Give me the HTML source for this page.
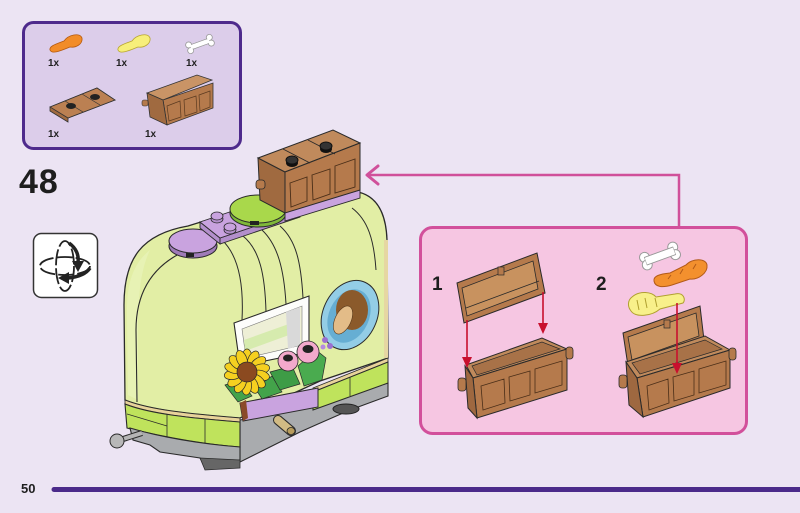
<!DOCTYPE html>
<html><head><meta charset="utf-8"><style>
html,body{margin:0;padding:0;background:#ece4f3;}
svg{display:block;}
text{font-family:"Liberation Sans",Arial,sans-serif;}
</style></head><body>
<svg width="800" height="513" viewBox="0 0 800 513" xmlns="http://www.w3.org/2000/svg">
<rect x="0" y="0" width="800" height="513" fill="#ece4f3"/>

<!-- Parts box -->
<rect x="23.5" y="22.5" width="217" height="126" rx="10" fill="#dccdea" stroke="#4e2a8c" stroke-width="3"/>
<path d="M50,50 C49,46 56,44 64,41 C68,35 80,32 82,38 C83,44 76,48 70,47 C62,50 52,55 50,50 Z" fill="#f28c28" stroke="#b55a10" stroke-width="0.8"/>
<path d="M118,50 C117,46 124,44 132,41 C136,35 148,32 150,38 C151,44 144,48 138,47 C130,50 120,55 118,50 Z" fill="#f7ef7a" stroke="#b8a630" stroke-width="0.8"/>
<g transform="translate(200,44) rotate(-20)">
<rect x="-10" y="-2.5" width="20" height="5" fill="#fff" stroke="#999" stroke-width="0.8"/>
<circle cx="-11" cy="-3" r="3" fill="#fff" stroke="#999" stroke-width="0.8"/><circle cx="-11" cy="3" r="3" fill="#fff" stroke="#999" stroke-width="0.8"/>
<circle cx="11" cy="-3" r="3" fill="#fff" stroke="#999" stroke-width="0.8"/><circle cx="11" cy="3" r="3" fill="#fff" stroke="#999" stroke-width="0.8"/>
<rect x="-10" y="-2" width="20" height="4" fill="#fff"/>
</g>
<text x="48" y="66" font-size="10" font-weight="bold" fill="#222">1x</text>
<text x="116" y="66" font-size="10" font-weight="bold" fill="#222">1x</text>
<text x="186" y="66" font-size="10" font-weight="bold" fill="#222">1x</text>
<!-- lid part -->
<polygon points="50,107 97,88 115,100 68,118 68,122 50,111" fill="#a06a40" stroke="#333" stroke-width="0.8"/>
<polygon points="50,107 97,88 115,100 68,118" fill="#bb8052" stroke="#333" stroke-width="0.8"/>
<line x1="65" y1="101" x2="83" y2="112" stroke="#333" stroke-width="0.7"/>
<line x1="82" y1="94" x2="100" y2="105" stroke="#333" stroke-width="0.7"/>
<ellipse cx="71" cy="106" rx="5" ry="3" fill="#222"/><ellipse cx="95" cy="97" rx="5" ry="3" fill="#222"/>
<!-- chest part -->
<polygon points="147,93 197,75 212,80 163,100" fill="#c99466" stroke="#333" stroke-width="0.8"/>
<polygon points="163,100 213,83 213,108 167,125" fill="#b57a4c" stroke="#333" stroke-width="0.8"/>
<polygon points="147,93 163,100 167,125 150,117" fill="#a06a40" stroke="#333" stroke-width="0.8"/>
<polygon points="167,106 180,101 181,117 169,121" fill="none" stroke="#5a3a20" stroke-width="0.7"/>
<polygon points="184,100 196,96 197,112 185,116" fill="none" stroke="#5a3a20" stroke-width="0.7"/>
<polygon points="199,95 210,91 210,107 200,111" fill="none" stroke="#5a3a20" stroke-width="0.7"/>
<rect x="142" y="100" width="6" height="6" rx="2" fill="#b57a4c" stroke="#333" stroke-width="0.6"/>
<text x="48" y="137" font-size="10" font-weight="bold" fill="#222">1x</text>
<text x="145" y="137" font-size="10" font-weight="bold" fill="#222">1x</text>

<!-- Step number -->
<text x="19" y="193" font-size="34" font-weight="bold" fill="#1e1e1e" letter-spacing="1">48</text>

<!-- rotate icon -->
<rect x="33.5" y="233.5" width="64" height="64" rx="8" fill="#fff" stroke="#333" stroke-width="1.5"/>
<ellipse cx="65" cy="266" rx="25" ry="9" fill="none" stroke="#222" stroke-width="1.8" stroke-dasharray="16 3"/>
<ellipse cx="65" cy="266" rx="9" ry="25" fill="none" stroke="#222" stroke-width="1.8" stroke-dasharray="16 3"/>
<path d="M69,243 C76,248 79,255 78,262" fill="none" stroke="#222" stroke-width="3.5"/>
<polygon points="72,261 84,261 78,272" fill="#222"/>
<path d="M90,268 C86,274 78,277 68,278" fill="none" stroke="#222" stroke-width="3.5"/>
<polygon points="69,272 69,284 58,278" fill="#222"/>

<!-- connector -->
<path d="M679,228 L679,175 L367,175" fill="none" stroke="#d0509a" stroke-width="2.5"/>
<path d="M378,166 L367,175 L378,184" fill="none" stroke="#d0509a" stroke-width="3" stroke-linecap="round" stroke-linejoin="round"/>

<!-- TRAILER -->
<polygon points="240,420 318,406 388,383 388,396 350,410 318,424 300,432 240,462" fill="#a9abae" stroke="#2a2a2a" stroke-width="1.1"/>
<ellipse cx="346" cy="409" rx="13" ry="5" fill="#555" stroke="#222" stroke-width="1"/>
<path d="M125,400 L124,305 C124,258 142,234 188,226 L262,203 L358,192 C376,196 386,212 387,240 L388,358 L320,381 L240,418 C190,414 150,410 125,400 Z" fill="#e2eea5" stroke="#2a2a2a" stroke-width="1.3"/>
<path d="M128,395 L127,310 C127,280 135,262 150,250 C140,270 138,300 138,330 L138,400 Z" fill="#eaf4bb" opacity="0.7"/>
<path d="M137,402 L136,330 C136,280 165,250 222,240" fill="none" stroke="#2a2a2a" stroke-width="1.1"/>
<path d="M222,240 C238,255 244,282 242,320" fill="none" stroke="#2a2a2a" stroke-width="1"/>
<path d="M243,236 C260,250 265,275 266,312" fill="none" stroke="#2a2a2a" stroke-width="1"/>
<path d="M262,230 C278,245 284,270 286,304" fill="none" stroke="#2a2a2a" stroke-width="1"/>
<path d="M280,226 C296,240 301,262 303,298" fill="none" stroke="#2a2a2a" stroke-width="1"/>
<path d="M352,208 C368,220 374,240 376,270" fill="none" stroke="#2a2a2a" stroke-width="1"/>
<rect x="384" y="240" width="4" height="118" fill="#e6d7a2"/>
<polygon points="313,388 388,358 388,362 313,392" fill="#e8d39a" stroke="#2a2a2a" stroke-width="0.8"/>
<polygon points="313,392 388,362 388,383 313,410" fill="#bfe35c" stroke="#2a2a2a" stroke-width="1"/>
<line x1="350" y1="377" x2="350" y2="396" stroke="#2a2a2a" stroke-width="0.8"/>
<path d="M125,400 C150,410 190,414 240,418 L240,422 C190,418 150,414 125,404 Z" fill="#e8d39a" stroke="#2a2a2a" stroke-width="0.8"/>
<path d="M125,404 C150,414 190,418 240,422 L240,447 C200,444 160,436 127,428 Z" fill="#bfe35c" stroke="#2a2a2a" stroke-width="1.1"/>
<line x1="167" y1="414" x2="167" y2="438" stroke="#2a2a2a" stroke-width="0.8"/>
<line x1="127" y1="414" x2="167" y2="426" stroke="#2a2a2a" stroke-width="0.7"/>
<line x1="205" y1="419" x2="205" y2="444" stroke="#2a2a2a" stroke-width="0.8"/>
<path d="M130,428 C160,437 200,444 240,447 L240,460 L205,466 L200,458 L160,452 L150,445 L133,440 Z" fill="#a9abae" stroke="#2a2a2a" stroke-width="1.1"/>
<polygon points="200,458 240,460 240,468 205,470" fill="#666" stroke="#2a2a2a" stroke-width="0.8"/>
<line x1="120" y1="440" x2="142" y2="433" stroke="#2a2a2a" stroke-width="6"/>
<line x1="120" y1="440" x2="142" y2="433" stroke="#b5b5b5" stroke-width="4"/>
<circle cx="117" cy="441" r="7" fill="#b8b8b8" stroke="#2a2a2a" stroke-width="1"/>
<polygon points="240,403 318,388 318,407 243,421" fill="#c9a3df" stroke="#2a2a2a" stroke-width="1"/>
<polygon points="240,403 246,400 248,418 243,421" fill="#8a4a2a"/>
<line x1="278" y1="420" x2="291" y2="431" stroke="#2a2a2a" stroke-width="10" stroke-linecap="round"/>
<line x1="278" y1="420" x2="291" y2="431" stroke="#d2bb84" stroke-width="8" stroke-linecap="round"/>
<ellipse cx="291" cy="431" rx="4" ry="3.5" fill="#b89c5c" stroke="#2a2a2a" stroke-width="0.8"/>
<polygon points="234,323 309,296 309,352 240,366" fill="#fdfdfb" stroke="#2a2a2a" stroke-width="1.1"/>
<polygon points="242,329 302,306 302,345 246,358" fill="#eeefd6" stroke="#777" stroke-width="0.6"/>
<polygon points="244,340 300,320 300,331 245,351" fill="#d6ebae"/>
<polygon points="286,312 300,307 300,345 288,349" fill="#d9d9d9"/>
<ellipse cx="350" cy="315" rx="27" ry="36" transform="rotate(25 350 315)" fill="#93cde6" stroke="#2a2a2a" stroke-width="1"/>
<ellipse cx="349" cy="316" rx="20" ry="28" transform="rotate(25 349 316)" fill="#66aed3"/>
<ellipse cx="352" cy="310" rx="16" ry="20" fill="#8b5a2b"/>
<ellipse cx="343" cy="320" rx="8" ry="15" transform="rotate(25 343 320)" fill="#e3bc88" stroke="#5a3a1a" stroke-width="0.6"/>
<circle cx="325" cy="340" r="3" fill="#9b6fd0"/><circle cx="330" cy="346" r="3" fill="#9b6fd0"/><circle cx="323" cy="347" r="2.5" fill="#b48be0"/>
<polygon points="225,385 240,380 252,396 238,402" fill="#43a34a" stroke="#2a2a2a" stroke-width="0.7"/>
<polygon points="255,388 272,376 282,392 262,399" fill="#43a34a" stroke="#2a2a2a" stroke-width="0.7"/>
<polygon points="270,372 292,366 300,384 280,390" fill="#3e9c46" stroke="#2a2a2a" stroke-width="0.7"/>
<polygon points="298,366 316,350 326,358 322,380 304,386" fill="#4aab4f" stroke="#2a2a2a" stroke-width="0.7"/>
<circle cx="288" cy="361" r="10" fill="#f3a9cc" stroke="#2a2a2a" stroke-width="0.8"/>
<ellipse cx="288" cy="358" rx="5" ry="3.5" fill="#222"/>
<circle cx="308" cy="352" r="11" fill="#f3a9cc" stroke="#2a2a2a" stroke-width="0.8"/>
<ellipse cx="308" cy="349" rx="5.5" ry="4" fill="#222"/>
<g transform="translate(247,372)" fill="#f5d020" stroke="#2a2a2a" stroke-width="0.7">
<ellipse cx="0" cy="-14" rx="5" ry="9"/>
<ellipse cx="0" cy="-14" rx="5" ry="9" transform="rotate(26)"/>
<ellipse cx="0" cy="-14" rx="5" ry="9" transform="rotate(52)"/>
<ellipse cx="0" cy="-14" rx="5" ry="9" transform="rotate(78)"/>
<ellipse cx="0" cy="-14" rx="5" ry="9" transform="rotate(104)"/>
<ellipse cx="0" cy="-14" rx="5" ry="9" transform="rotate(130)"/>
<ellipse cx="0" cy="-14" rx="5" ry="9" transform="rotate(156)"/>
<ellipse cx="0" cy="-14" rx="5" ry="9" transform="rotate(182)"/>
<ellipse cx="0" cy="-14" rx="5" ry="9" transform="rotate(208)"/>
<ellipse cx="0" cy="-14" rx="5" ry="9" transform="rotate(234)"/>
<ellipse cx="0" cy="-14" rx="5" ry="9" transform="rotate(260)"/>
<ellipse cx="0" cy="-14" rx="5" ry="9" transform="rotate(286)"/>
<ellipse cx="0" cy="-14" rx="5" ry="9" transform="rotate(312)"/>
<ellipse cx="0" cy="-14" rx="5" ry="9" transform="rotate(338)"/>
<circle cx="0" cy="0" r="10" fill="#8b4a20"/>
</g>
<ellipse cx="193" cy="246" rx="24" ry="12" fill="#9f7bb8" stroke="#2a2a2a" stroke-width="1"/>
<ellipse cx="193" cy="241" rx="24" ry="12" fill="#c9a3df" stroke="#2a2a2a" stroke-width="1"/>
<rect x="186" y="253" width="8" height="4" fill="#222"/>
<polygon points="200,222 220,238 220,244 200,228" fill="#b38fcb" stroke="#2a2a2a" stroke-width="0.9"/>
<polygon points="220,238 300,211 300,217 220,244" fill="#b38fcb" stroke="#2a2a2a" stroke-width="0.9"/>
<polygon points="200,222 280,195 300,211 220,238" fill="#c9a3df" stroke="#2a2a2a" stroke-width="0.9"/>
<ellipse cx="217" cy="219" rx="6" ry="4" fill="#b38fcb" stroke="#2a2a2a" stroke-width="0.8"/>
<ellipse cx="217" cy="216" rx="6" ry="4" fill="#c9a3df" stroke="#2a2a2a" stroke-width="0.8"/>
<ellipse cx="230" cy="230" rx="6" ry="4" fill="#b38fcb" stroke="#2a2a2a" stroke-width="0.8"/>
<ellipse cx="230" cy="227" rx="6" ry="4" fill="#c9a3df" stroke="#2a2a2a" stroke-width="0.8"/>
<ellipse cx="258" cy="213" rx="28" ry="14" fill="#7fb83a" stroke="#2a2a2a" stroke-width="1"/>
<ellipse cx="258" cy="209" rx="28" ry="14" fill="#a9d84b" stroke="#2a2a2a" stroke-width="1"/>
<rect x="250" y="221" width="9" height="4" fill="#222"/>
<polygon points="285,212 360,190 360,198 285,221" fill="#c9a3df" stroke="#2a2a2a" stroke-width="0.9"/>
<polygon points="258,158 285,172 285,213 260,200" fill="#a06a40" stroke="#2a2a2a" stroke-width="1"/>
<polygon points="258,158 333,130 360,143 285,172" fill="#c08a5c" stroke="#2a2a2a" stroke-width="1"/>
<polygon points="285,172 360,143 360,190 285,213" fill="#b57a4c" stroke="#2a2a2a" stroke-width="1"/>
<line x1="283" y1="149" x2="310" y2="163" stroke="#2a2a2a" stroke-width="0.9"/>
<line x1="308" y1="140" x2="335" y2="154" stroke="#2a2a2a" stroke-width="0.9"/>
<polygon points="290,183 307,177 307,201 291,207" fill="none" stroke="#4a2e18" stroke-width="0.9"/>
<polygon points="312,175 330,169 330,194 313,200" fill="none" stroke="#4a2e18" stroke-width="0.9"/>
<polygon points="335,166 355,159 355,187 335,193" fill="none" stroke="#4a2e18" stroke-width="0.9"/>
<rect x="256" y="180" width="9" height="9" rx="3" fill="#b57a4c" stroke="#2a2a2a" stroke-width="0.8"/>
<ellipse cx="292" cy="163" rx="6" ry="4" fill="#111"/><ellipse cx="292" cy="160" rx="6" ry="4" fill="#333" stroke="#111"/>
<ellipse cx="326" cy="149" rx="6" ry="4" fill="#111"/><ellipse cx="326" cy="146" rx="6" ry="4" fill="#333" stroke="#111"/>

<!-- Pink sub-step box -->
<rect x="420.5" y="227.5" width="326" height="206" rx="12" fill="#f6c6e2" stroke="#d2509b" stroke-width="3"/>
<text x="432" y="290" font-size="19" font-weight="bold" fill="#1e1e1e">1</text>
<text x="596" y="290" font-size="19" font-weight="bold" fill="#1e1e1e">2</text>
<polygon points="457,283 537,253 545,293 464,323" fill="#b57a4c" stroke="#2a2a2a" stroke-width="1"/>
<polygon points="462,288 533,261 538,289 467,316" fill="#c8925f" stroke="#2a2a2a" stroke-width="0.8"/>
<line x1="466" y1="308" x2="539" y2="281" stroke="#2a2a2a" stroke-width="0.8"/>
<rect x="498" y="267" width="6" height="8" fill="#b57a4c" stroke="#2a2a2a" stroke-width="0.7"/>
<polygon points="466,365 542,338 567,349 473,378" fill="#c08a5c" stroke="#2a2a2a" stroke-width="1"/>
<polygon points="472,366 542,342 560,349 477,375" fill="#a87248" stroke="#2a2a2a" stroke-width="0.7"/>
<polygon points="473,378 567,349 567,390 477,418" fill="#b57a4c" stroke="#2a2a2a" stroke-width="1"/>
<polygon points="465,366 473,378 477,418 468,408" fill="#9e6840" stroke="#2a2a2a" stroke-width="1"/>
<polygon points="481,386 504,379 505,403 483,410" fill="none" stroke="#4a2e18" stroke-width="0.8"/>
<polygon points="509,377 530,371 530,395 510,401" fill="none" stroke="#4a2e18" stroke-width="0.8"/>
<polygon points="535,369 562,361 562,385 535,393" fill="none" stroke="#4a2e18" stroke-width="0.8"/>
<rect x="458" y="378" width="8" height="13" rx="3" fill="#b57a4c" stroke="#2a2a2a" stroke-width="0.8"/>
<rect x="566" y="347" width="7" height="12" rx="3" fill="#b57a4c" stroke="#2a2a2a" stroke-width="0.8"/>
<line x1="467" y1="320" x2="467" y2="358" stroke="#c8102e" stroke-width="1.6"/>
<polygon points="462,357 472,357 467,368" fill="#c8102e"/>
<line x1="543" y1="292" x2="543" y2="324" stroke="#c8102e" stroke-width="1.6"/>
<polygon points="538,323 548,323 543,334" fill="#c8102e"/>
<polygon points="623,333 700,306 704,340 628,366" fill="#b57a4c" stroke="#2a2a2a" stroke-width="1"/>
<polygon points="628,337 696,313 699,336 632,360" fill="#c8925f" stroke="#2a2a2a" stroke-width="0.8"/>
<rect x="664" y="320" width="6" height="8" fill="#b57a4c" stroke="#2a2a2a" stroke-width="0.7"/>
<polygon points="626,362 705,336 730,350 637,378" fill="#c08a5c" stroke="#2a2a2a" stroke-width="1"/>
<polygon points="632,363 705,340 722,349 640,374" fill="#a87248" stroke="#2a2a2a" stroke-width="0.7"/>
<polygon points="637,378 730,350 730,388 643,417" fill="#b57a4c" stroke="#2a2a2a" stroke-width="1"/>
<polygon points="626,362 637,378 643,417 629,405" fill="#9e6840" stroke="#2a2a2a" stroke-width="1"/>
<polygon points="647,386 668,379 669,403 649,410" fill="none" stroke="#4a2e18" stroke-width="0.8"/>
<polygon points="673,377 694,371 694,395 674,401" fill="none" stroke="#4a2e18" stroke-width="0.8"/>
<polygon points="699,369 726,361 726,385 699,393" fill="none" stroke="#4a2e18" stroke-width="0.8"/>
<rect x="619" y="375" width="8" height="13" rx="3" fill="#b57a4c" stroke="#2a2a2a" stroke-width="0.8"/>
<rect x="729" y="348" width="7" height="12" rx="3" fill="#b57a4c" stroke="#2a2a2a" stroke-width="0.8"/>
<g transform="translate(660,256) rotate(-20)">
<circle cx="-15" cy="-4" r="5" fill="#fff" stroke="#999" stroke-width="1"/><circle cx="-15" cy="4" r="5" fill="#fff" stroke="#999" stroke-width="1"/>
<circle cx="15" cy="-4" r="5" fill="#fff" stroke="#999" stroke-width="1"/><circle cx="15" cy="4" r="5" fill="#fff" stroke="#999" stroke-width="1"/>
<rect x="-15" y="-4" width="30" height="8" fill="#fff" stroke="#999" stroke-width="1"/>
<rect x="-15" y="-3.4" width="30" height="6.8" fill="#fff"/>
</g>
<path d="M654,281 C653,276 660,274 670,273 L686,265 C692,258 706,258 707,265 C708,273 698,280 690,279 L672,285 C662,288 655,287 654,281 Z" fill="#f3902e" stroke="#b25a18" stroke-width="1"/>
<path d="M668,279 l3,-4 M680,274 l3,-5 M693,269 l3,-5" stroke="#b25a18" stroke-width="1"/>
<path d="M632,297 C640,290 652,292 656,297 L675,294 C684,292 686,300 683,303 L660,309 C652,316 636,318 631,311 C627,306 628,300 632,297 Z" fill="#f8f08a" stroke="#b0a030" stroke-width="1"/>
<path d="M637,300 l2,10 M645,298 l2,10 M655,298 l2,9" stroke="#b0a030" stroke-width="1"/>
<line x1="677" y1="303" x2="677" y2="364" stroke="#c8102e" stroke-width="1.6"/>
<polygon points="672,363 682,363 677,374" fill="#c8102e"/>

<!-- footer -->
<text x="21" y="493" font-size="13" font-weight="bold" fill="#1e1e1e">50</text>
<line x1="54" y1="489.5" x2="805" y2="489.5" stroke="#4b2a8a" stroke-width="5" stroke-linecap="round"/>
</svg>
</body></html>
